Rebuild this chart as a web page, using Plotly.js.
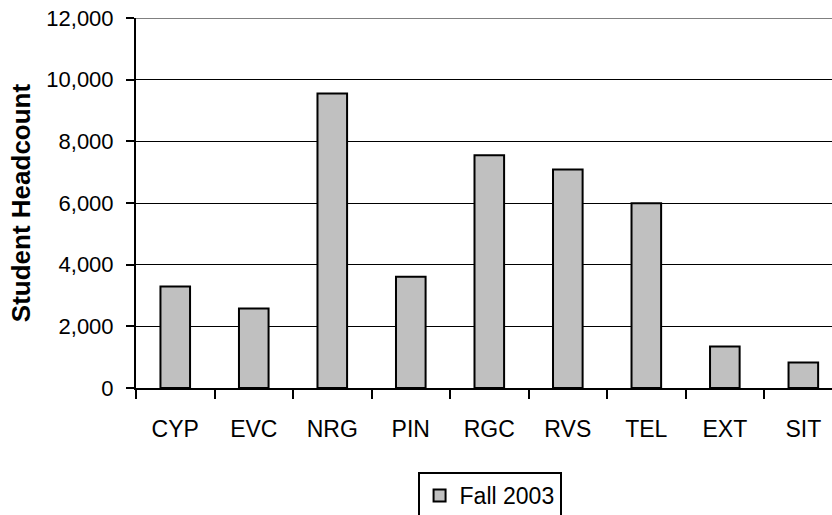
<!DOCTYPE html>
<html>
<head>
<meta charset="utf-8">
<script src="https://cdn.plot.ly/plotly-3.0.1.min.js"></script>
<style>
html,body{margin:0;padding:0;background:#fff;overflow:hidden;}
#wrap{width:832px;height:515px;overflow:hidden;}
#chart{width:832px;height:535px;}
</style>
</head>
<body>
<div id="wrap"><div id="chart"></div></div>
<script>
const categories = ["CYP", "EVC", "NRG", "PIN", "RGC", "RVS", "TEL", "EXT", "SIT"];
const fall2003 = [3290, 2580, 9550, 3605, 7550, 7090, 5990, 1350, 830];
const yTicks = [0, 2000, 4000, 6000, 8000, 10000, 12000];
const yTickLabels = ["0", "2,000", "4,000", "6,000", "8,000", "10,000", "12,000"];

const font = "Arial, 'Liberation Sans', sans-serif";

const trace = {
  type: "bar",
  name: "Fall 2003",
  x: categories,
  y: fall2003,
  marker: { color: "#c0c0c0", line: { color: "#000000", width: 2 } },
  hoverinfo: "x+y"
};

// plot area: y from 18 to 388 (370 px); legend top at ~472
const layout = {
  width: 832,
  height: 535,
  margin: { l: 136, r: 0, t: 18, b: 147 },
  paper_bgcolor: "#ffffff",
  plot_bgcolor: "#ffffff",
  font: { family: font, size: 22, color: "#000000" },
  bargap: 0.623,
  showlegend: true,
  legend: {
    x: 0.508, xanchor: "center",
    y: -0.227, yanchor: "top",
    orientation: "h",
    bordercolor: "#000000",
    borderwidth: 2,
    bgcolor: "#ffffff",
    font: { family: font, size: 23, color: "#000000" }
  },
  xaxis: {
    type: "category",
    range: [-0.5, 8.365],
    showline: true,
    linecolor: "#000000",
    linewidth: 2,
    ticks: "outside",
    tickson: "boundaries",
    ticklen: 9,
    tickwidth: 2,
    tickcolor: "#000000",
    ticklabelstandoff: 19,
    showgrid: false,
    zeroline: false,
    tickfont: { family: font, size: 23, color: "#000000" },
    fixedrange: true
  },
  yaxis: {
    range: [0, 12000],
    tickvals: yTicks,
    ticktext: yTickLabels,
    showline: true,
    linecolor: "#000000",
    linewidth: 2,
    ticks: "outside",
    ticklen: 8,
    tickwidth: 2,
    tickcolor: "#000000",
    ticklabelstandoff: 8,
    showgrid: true,
    gridcolor: "#000000",
    gridwidth: 1,
    zeroline: false,
    tickfont: { family: font, size: 22, color: "#000000" },
    title: { text: "<b>Student Headcount</b>", font: { family: font, size: 26, color: "#000000" }, standoff: 8 },
    fixedrange: true
  },
  shapes: [{
    type: "line", xref: "paper", yref: "y",
    x0: 0, x1: 1, y0: 12000, y1: 12000,
    line: { color: "#808080", width: 2 },
    layer: "above"
  }]
};

Plotly.newPlot("chart", [trace], layout, { displayModeBar: false, staticPlot: true });
</script>
</body>
</html>
